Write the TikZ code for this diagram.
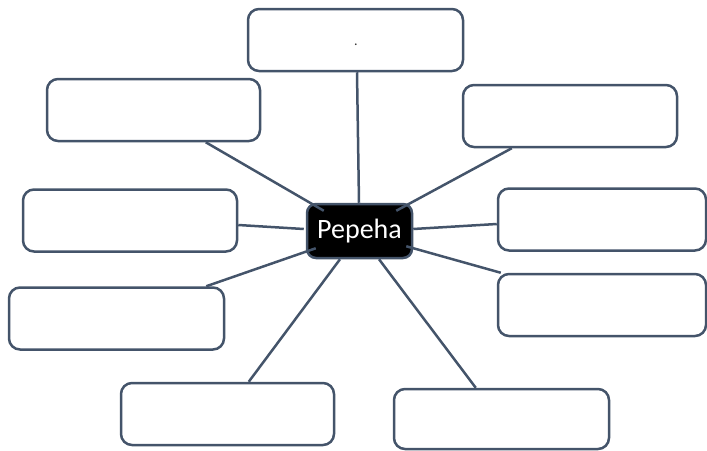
\documentclass[tikz,border=0pt]{standalone}
\usepackage{fontspec}
\setmainfont{Carlito}
\definecolor{slate}{HTML}{44546A}
\begin{document}
\begin{tikzpicture}[x=1pt,y=-1pt,
  box/.style={draw=slate,line width=2.5pt,fill=white,rounded corners=11pt,
    inner sep=0pt,minimum width=#1,minimum height=62pt},
  hub/.style={draw=slate,line width=2.5pt,fill=black,rounded corners=9pt,
    inner sep=0pt,minimum width=105pt,minimum height=54pt,
    text=white,font=\fontsize{28}{30}\selectfont},
  link/.style={draw=slate,line width=2.5pt}]
\useasboundingbox (0,0) rectangle (707,450);

% outer boxes
\node[box=215pt] (T)  at (355.5,40)  {};
\node[box=213pt] (TL) at (153.5,110) {};
\node[box=214pt] (TR) at (570,116)   {};
\node[box=214pt] (LM) at (130,220.5) {};
\node[box=208pt] (RM) at (602,219.5) {};
\node[box=208pt] (RL) at (602,305)   {};
\node[box=215pt] (LL) at (116.5,318.5) {};
\node[box=213pt] (BL) at (227.5,414) {};
\node[box=215pt,minimum height=60pt] (BR) at (501.5,419) {};
\node[anchor=base,font=\fontsize{14}{15}\selectfont,text=black!80,inner sep=0pt] (dot) at (356,45.5) {.};

% central node
\node[hub] (C) at (359.5,231) {Pepeha};

% connectors
\draw[link] ([xshift=1.5pt]T.south) -- ([xshift=-0.5pt]C.north);
\draw[link] ([xshift=160pt]TL.south west) -- ([xshift=18pt,yshift=-8pt]C.north west);
\draw[link] ([xshift=50pt]TR.south west) -- ([xshift=-17pt,yshift=-8pt]C.north east);
\draw[link] ([yshift=-4.5pt]LM.east) -- ([xshift=-2pt,yshift=2pt]C.west);
\draw[link] ([yshift=-4.5pt]RM.west) -- ([yshift=2pt]C.east);
\draw[link] ([xshift=4pt]RL.north west) -- ([xshift=-7pt,yshift=13pt]C.south east);
\draw[link] ([xshift=-19pt]LL.north east) -- ([xshift=10pt,yshift=11pt]C.south west);
\draw[link] ([xshift=129pt]BL.north west) -- ([xshift=-19.5pt]C.south);
\draw[link] ([xshift=83pt]BR.north west) -- ([xshift=19.5pt]C.south);
\end{tikzpicture}
\end{document}
